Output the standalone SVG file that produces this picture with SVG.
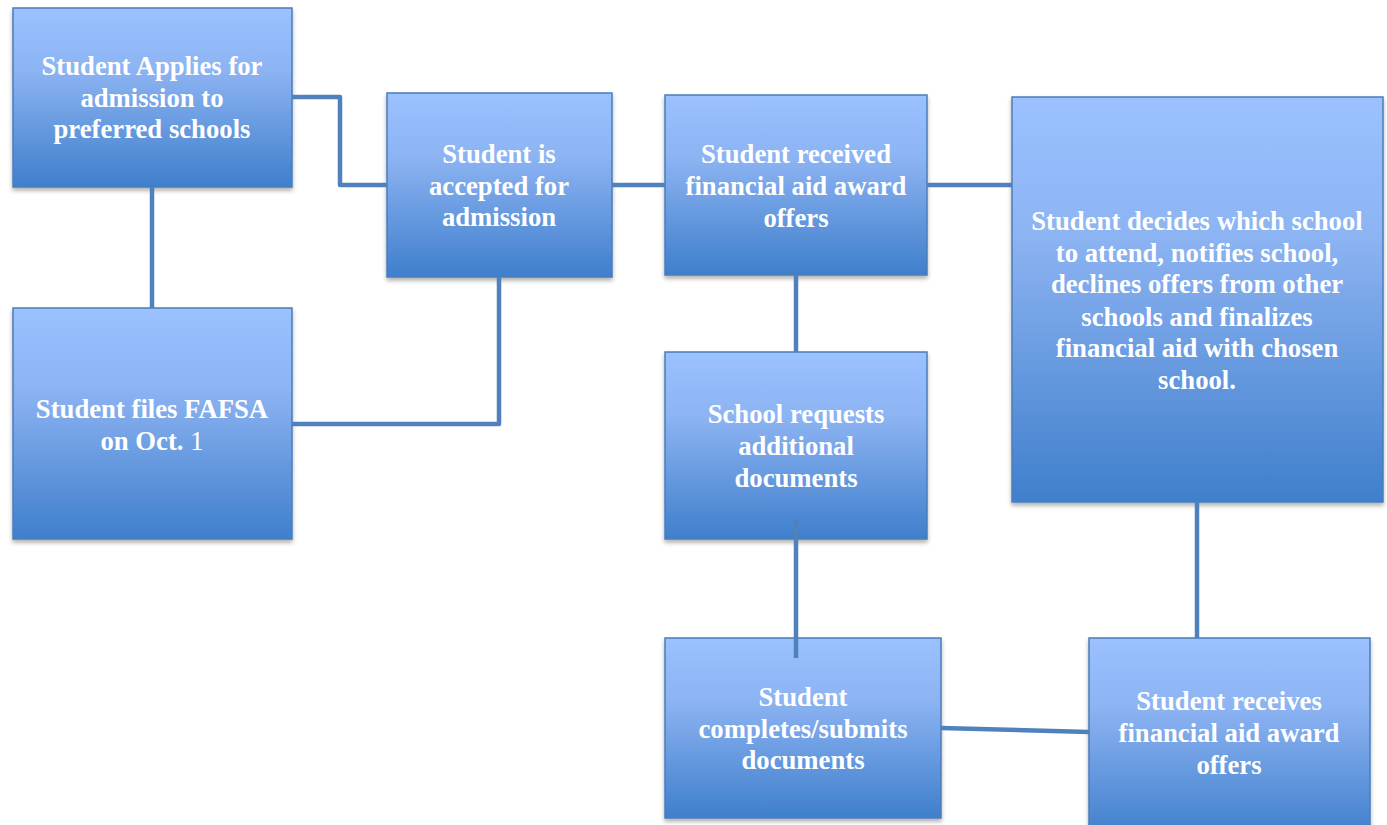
<svg xmlns="http://www.w3.org/2000/svg" width="1387" height="825" viewBox="0 0 1387 825">
<style>
.box{fill:url(#g);stroke:#4a7ebb;stroke-width:1.5;filter:url(#sh)}
.t{font-family:'Liberation Serif',serif;font-weight:700;font-size:26.7px;fill:#fff;text-anchor:middle}
.c{fill:none;stroke:#4f81bd;stroke-width:4.5;stroke-linejoin:round}
</style>
<defs>
<linearGradient id="g" x1="0" y1="0" x2="0" y2="1">
<stop offset="0" stop-color="#9bc1ff"/>
<stop offset="0.35" stop-color="#8cb3f2"/>
<stop offset="1" stop-color="#3f7fcc"/>
</linearGradient>
<filter id="sh" x="-10%" y="-10%" width="120%" height="120%">
<feDropShadow dx="0" dy="3" stdDeviation="2" flood-color="#000" flood-opacity="0.3"/>
</filter>
</defs>
<rect width="1387" height="825" fill="#fff"/>
<g id="n1"><rect class="box" x="13" y="8" width="279" height="179"/>
<text class="t"><tspan x="152" y="75">Student Applies for</tspan><tspan x="152" y="107">admission to</tspan><tspan x="152" y="138">preferred schools</tspan></text></g>
<g id="n2"><rect class="box" x="13" y="308" width="279" height="231"/>
<text class="t"><tspan x="152" y="418">Student files FAFSA</tspan><tspan x="152" y="450">on Oct. <tspan font-weight="normal">1</tspan></tspan></text></g>
<g id="n3"><rect class="box" x="387" y="93" width="225" height="184"/>
<text class="t"><tspan x="499" y="163">Student is</tspan><tspan x="499" y="195">accepted for</tspan><tspan x="499" y="226">admission</tspan></text></g>
<g id="n4"><rect class="box" x="665" y="95" width="262" height="180"/>
<text class="t"><tspan x="796" y="163">Student received</tspan><tspan x="796" y="195">financial aid award</tspan><tspan x="796" y="227">offers</tspan></text></g>
<g id="n5"><rect class="box" x="665" y="352" width="262" height="187"/>
<text class="t"><tspan x="796" y="423">School requests</tspan><tspan x="796" y="455">additional</tspan><tspan x="796" y="487">documents</tspan></text></g>
<g id="n6"><rect class="box" x="665" y="638" width="276" height="180"/>
<text class="t"><tspan x="803" y="706">Student</tspan><tspan x="803" y="738">completes/submits</tspan><tspan x="803" y="769">documents</tspan></text></g>
<g id="n7"><rect class="box" x="1012" y="97" width="371" height="405"/>
<text class="t"><tspan x="1197" y="230">Student decides which school</tspan><tspan x="1197" y="262">to attend, notifies school,</tspan><tspan x="1197" y="293">declines offers from other</tspan><tspan x="1197" y="326">schools and finalizes</tspan><tspan x="1197" y="357">financial aid with chosen</tspan><tspan x="1197" y="389">school.</tspan></text></g>
<g id="n8"><rect class="box" x="1089" y="638" width="281" height="200"/>
<text class="t"><tspan x="1229" y="710">Student receives</tspan><tspan x="1229" y="742">financial aid award</tspan><tspan x="1229" y="774">offers</tspan></text></g>
<g id="connectors">
<path class="c" d="M292 97 H340 V185 H387"/>
<path class="c" d="M152 187 V308"/>
<path class="c" d="M292 424 H499 V277"/>
<path class="c" d="M612 185 H665"/>
<path class="c" d="M927 185 H1012"/>
<path class="c" d="M796 275 V352"/>
<path class="c" d="M796 520 V658"/>
<path class="c" d="M941 728 L1089 732"/>
<path class="c" d="M1197 502 V638"/>
</g>
</svg>
